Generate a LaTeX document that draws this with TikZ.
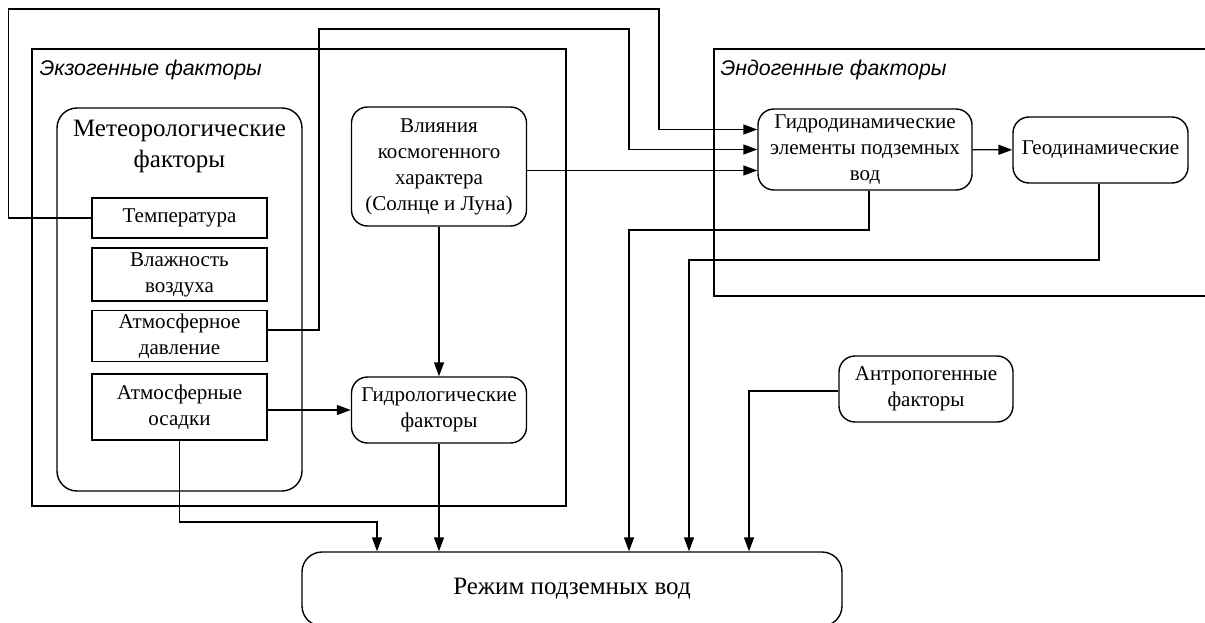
\documentclass[tikz,border=0pt]{standalone}
\usepackage{fontspec}
\setmainfont{Liberation Serif}
\newfontfamily\grpfont{Liberation Sans}
\usetikzlibrary{arrows.meta}

\begin{document}
\begin{tikzpicture}[x=1pt, y=-1pt, line width=1.4pt,
    box/.style={draw, align=center, inner sep=0pt, font=\fontsize{21}{26}\selectfont},
    rbox/.style={box, rounded corners=16pt},
    grp/.style={draw, inner sep=0pt},
    grplabel/.style={anchor=west, inner sep=0pt, font=\grpfont\itshape\fontsize{21.3}{26}\selectfont},
    arr/.style={-{Triangle[length=14pt, width=10pt]}}]
    \useasboundingbox (0,0) rectangle (1205,623);
    % groups
    \node[grp, minimum width=534pt, minimum height=457pt] (exo) at (299,277.5) {};
    \node[grplabel] (exolabel) at (39,70) {Экзогенные факторы};
    \draw (1205,49) -| (714,296) -- (1205,296);
    \node[grplabel] (endolabel) at (720,70) {Эндогенные факторы};
    \node[grp, rounded corners=20pt, minimum width=245pt, minimum height=383pt] (meteo) at (179.5,299.5) {};
    \node[anchor=north, align=center, inner sep=0pt, font=\fontsize{25}{31}\selectfont] (meteotitle) at (179.5,119) {Метеорологические\\факторы};
    % meteorological factors
    \node[box, minimum width=175pt, minimum height=40pt] (temp) at (179.5,218) {Температура};
    \node[box, minimum width=175pt, minimum height=53pt] (vlazh) at (179.5,274.5) {Влажность\\воздуха};
    \node[box, minimum width=175pt, minimum height=51pt] (davl) at (179.5,336) {Атмосферное\\давление};
    \node[box, minimum width=175pt, minimum height=66pt] (osad) at (179.5,407) {Атмосферные\\осадки};
    % other factors
    \node[rbox, minimum width=175pt, minimum height=119pt] (kosmo) at (439,166.5) {Влияния\\космогенного\\характера\\(Солнце и Луна)};
    \node[rbox, minimum width=175pt, minimum height=66pt] (gidrolog) at (439,410) {Гидрологические\\факторы};
    \node[rbox, minimum width=214pt, minimum height=81pt] (gidrodin) at (865,149.5) {Гидродинамические\\элементы подземных\\вод};
    \node[rbox, minimum width=175pt, minimum height=66pt] (geodin) at (1100.5,150) {Геодинамические};
    \node[rbox, minimum width=174pt, minimum height=66pt] (antro) at (926,389) {Антропогенные\\факторы};
    \node[box, rounded corners=20pt, minimum width=540pt, minimum height=74pt, font=\fontsize{25}{31}\selectfont] (rezhim) at (572,589) {Режим подземных вод};
    % connectors
    \coordinate (g1) at ([yshift=20pt]gidrodin.west);
    \coordinate (g3) at ([yshift=-21pt]gidrodin.west);
    \draw[arr] (temp.west) -- ++(-83,0) |- (659,9) |- (g1);
    \draw[arr] ([yshift=6pt]davl.east) -| (319,29) -- (629,29) |- (gidrodin.west);
    \draw[arr] (g3 -| kosmo.east) -- (g3);
    \draw[arr] (gidrodin) -- (geodin);
    \draw[arr] (kosmo) -- (gidrolog);
    \draw[arr] (osad.east |- gidrolog) -- (gidrolog.west);
    \coordinate (k1) at (377,522);
    \coordinate (k2) at (629,230);
    \coordinate (k3) at (689,260);
    \coordinate (k4) at (749,391);
    \draw[arr] (osad.south) |- (k1) -- (k1 |- rezhim.north);
    \draw[arr] (gidrolog.south) -- (gidrolog.south |- rezhim.north);
    \draw[arr] ([xshift=4pt]gidrodin.south) |- (k2) -- (k2 |- rezhim.north);
    \draw[arr] ([xshift=-1.5pt]geodin.south) |- (k3) -- (k3 |- rezhim.north);
    \draw[arr] (k4 -| antro.west) -- (k4) -- (k4 |- rezhim.north);
\end{tikzpicture}
\end{document}
